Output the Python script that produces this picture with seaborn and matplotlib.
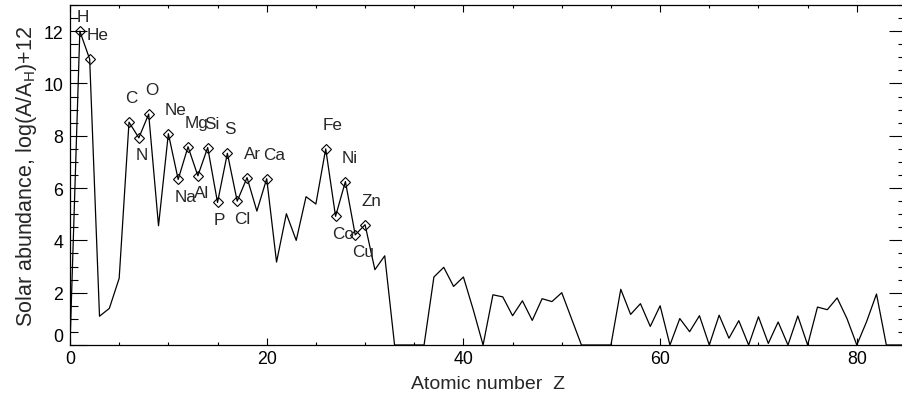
import numpy as np
import pandas as pd
import matplotlib
matplotlib.use("Agg")
import matplotlib.pyplot as plt
from matplotlib.ticker import MultipleLocator
import seaborn as sns

# ---------------------------
# Data: solar abundances, log(A/A_H)+12 (Z = 0..85)
# ---------------------------
atomic_number = list(range(0, 86))
abundance = [
    0.00, 12.00, 10.93, 1.10, 1.40, 2.55, 8.52, 7.92, 8.83, 4.56,    # 0-9
    8.08, 6.33, 7.58, 6.47, 7.55, 5.45, 7.33, 5.50, 6.40, 5.12,      # 10-19
    6.36, 3.17, 5.02, 4.00, 5.67, 5.39, 7.50, 4.92, 6.25, 4.21,      # 20-29
    4.60, 2.88, 3.41, 0.00, 0.00, 0.00, 0.00, 2.60, 2.97, 2.24,      # 30-39
    2.60, 1.35, 0.00, 1.92, 1.84, 1.12, 1.69, 0.94, 1.77, 1.66,      # 40-49
    2.00, 1.00, 0.00, 0.00, 0.00, 0.00, 2.13, 1.17, 1.58, 0.71,      # 50-59
    1.50, 0.00, 1.01, 0.51, 1.12, 0.00, 1.14, 0.26, 0.93, 0.00,      # 60-69
    1.08, 0.06, 0.88, 0.00, 1.11, 0.00, 1.45, 1.35, 1.80, 1.01,      # 70-79
    0.00, 0.90, 1.95, 0.00, 0.00, 0.00,                              # 80-85
]

# elements marked with a diamond and a label
marked_symbols = ["H", "He", "C", "N", "O", "Ne", "Na", "Mg", "Al", "Si",
                  "P", "S", "Cl", "Ar", "Ca", "Fe", "Co", "Ni", "Cu", "Zn"]
marked_z = [1, 2, 6, 7, 8, 10, 11, 12, 13, 14,
            15, 16, 17, 18, 20, 26, 27, 28, 29, 30]
# label side: above or below the point
label_side = ["top", "up", "up", "down", "up", "up", "down", "up", "down", "up",
              "down", "up", "down", "up", "up", "up", "down", "up", "down", "up"]

df = pd.DataFrame({"Z": atomic_number, "abund": abundance})
marked = df.set_index("Z").loc[marked_z].reset_index()
marked["symbol"] = marked_symbols
marked["side"] = label_side

# ---------------------------
# Style
# ---------------------------
sns.set_style("ticks")
plt.rcParams["font.family"] = ["Liberation Sans", "DejaVu Sans"]
plt.rcParams["mathtext.default"] = "regular"
plt.rcParams["font.size"] = 12

fig = plt.figure(figsize=(9.02, 4.02), dpi=100)
ax = fig.add_axes([70 / 902, 56 / 402, 836 / 902, 340 / 402])

sns.lineplot(data=df, x="Z", y="abund", ax=ax, color="black", lw=0.9,
             estimator=None, sort=False)
sns.lineplot(data=marked, x="Z", y="abund", ax=ax, color="black",
             estimator=None, sort=False, ls="none", marker="D",
             markersize=5.6, mfc="none", mec="black", mew=0.8)

# element labels, offsets in points from each marked point
offsets = {"up": (-2.5, 14.4), "down": (-2.5, -15.5), "top": (-2.5, 7.6)}
for _, row in marked.iterrows():
    ax.annotate(row["symbol"], (row["Z"], row["abund"]),
                xytext=offsets[row["side"]], textcoords="offset points",
                ha="left", va="baseline", fontsize=12.3)

ax.set_xlim(0, 85)
ax.set_ylim(0, 13)
ax.set_xticks([0, 20, 40, 60, 80])
ax.set_yticks([0, 2, 4, 6, 8, 10, 12])
ax.xaxis.set_minor_locator(MultipleLocator(5))
ax.yaxis.set_minor_locator(MultipleLocator(0.5))

ax.tick_params(which="both", direction="in", top=True, right=True,
               width=0.8, colors="black", labelsize=12.8)
ax.tick_params(axis="y", which="major", length=12, pad=5)
ax.tick_params(axis="y", which="minor", length=6)
ax.tick_params(axis="x", which="major", length=4.9, pad=3.5)
ax.tick_params(axis="x", which="minor", length=2.45)
for sp in ax.spines.values():
    sp.set_linewidth(0.9)
    sp.set_color("black")

ax.set_xlabel("Atomic number  Z", fontsize=14, labelpad=6)
ax.set_ylabel("Solar abundance, log(A/A$_H$)+12", fontsize=15.5, labelpad=3)

# lift the zero label like the original
ax.get_yticklabels()[0].set_verticalalignment("bottom")

fig.savefig("out.png", dpi=100)
